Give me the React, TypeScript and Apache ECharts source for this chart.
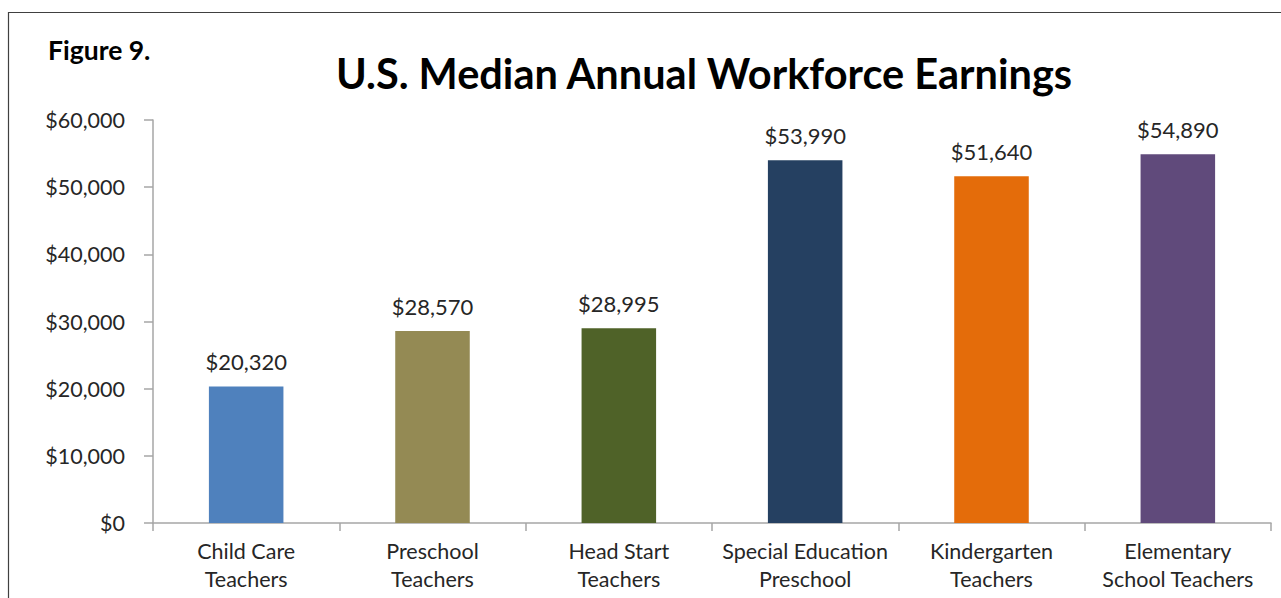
import React, { useEffect, useRef } from "react";
import * as echarts from "echarts";

const categories = [
  "Child Care\nTeachers",
  "Preschool\nTeachers",
  "Head Start\nTeachers",
  "Special Education\nPreschool",
  "Kindergarten\nTeachers",
  "Elementary\nSchool Teachers",
];
const earnings = [20320, 28570, 28995, 53990, 51640, 54890];
const barColors = ["#4F81BD", "#948A54", "#4F6228", "#254061", "#E46C0A", "#604A7B"];
const yTicks = { min: 0, max: 60000, interval: 10000 };

const fmt = (v: number) => "$" + v.toLocaleString("en-US");

export default function App() {
  const ref = useRef<HTMLDivElement>(null);
  useEffect(() => {
    if (!ref.current) return;
    const chart = echarts.init(ref.current, null, { renderer: "svg" });
    chart.setOption({
      animation: false,
      backgroundColor: "#ffffff",
      textStyle: { fontFamily: "Lato" },
      graphic: [
        {
          type: "rect",
          shape: { x: 8.5, y: 12.5, width: 1300, height: 700 },
          style: { fill: "none", stroke: "#404040", lineWidth: 1.2 },
          silent: true,
        },
        {
          type: "text",
          left: 48,
          top: 36,
          style: { text: "Figure 9.", font: "bold 26.5px Lato", fill: "#000" },
        },
      ],
      title: {
        text: "U.S. Median Annual Workforce Earnings",
        left: 699,
        textAlign: "center",
        top: 47,
        textStyle: { fontFamily: "Lato", fontWeight: "bold", fontSize: 41.5, color: "#000" },
      },
      grid: { left: 153, right: 10, top: 120, bottom: 75, containLabel: false },
      xAxis: {
        type: "category",
        data: categories,
        axisLine: { show: true, lineStyle: { color: "#A6A6A6", width: 1.5 } },
        axisTick: { show: true, length: 8, alignWithLabel: false, lineStyle: { color: "#A6A6A6", width: 1.5 } },
        axisLabel: {
          interval: 0,
          margin: 14,
          fontFamily: "Lato",
          fontSize: 21.5,
          lineHeight: 28,
          color: "#262626",
        },
      },
      yAxis: {
        type: "value",
        min: yTicks.min,
        max: yTicks.max,
        interval: yTicks.interval,
        splitLine: { show: false },
        axisLine: { show: true, lineStyle: { color: "#A6A6A6", width: 1.5 } },
        axisTick: { show: true, length: 9, lineStyle: { color: "#A6A6A6", width: 1.5 } },
        axisLabel: {
          margin: 28,
          fontFamily: "Lato",
          fontSize: 21.5,
          color: "#262626",
          formatter: (v: number) => fmt(v),
        },
      },
      series: [
        {
          type: "bar",
          barWidth: "40%",
          data: earnings.map((v, i) => ({ value: v, itemStyle: { color: barColors[i] } })),
          label: {
            show: true,
            position: "top",
            distance: 14,
            fontFamily: "Lato",
            fontSize: 22,
            color: "#262626",
            formatter: (p: any) => fmt(p.value),
          },
        },
      ],
    });
    return () => chart.dispose();
  }, []);
  return (
    <div
      ref={ref}
      style={{ position: "fixed", left: 0, top: 0, width: 1281, height: 598 }}
    />
  );
}
